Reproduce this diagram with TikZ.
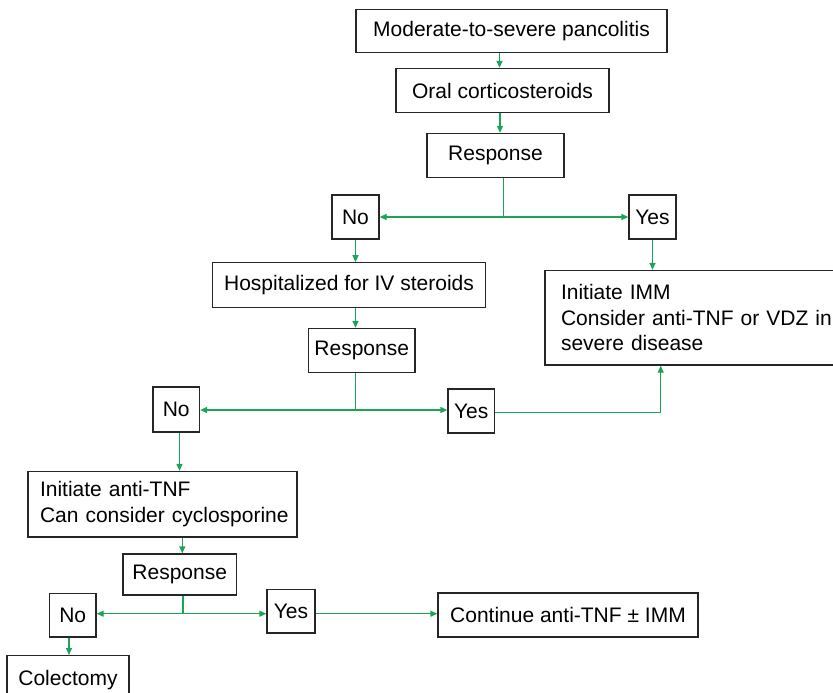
\documentclass[tikz,border=0pt]{standalone}
\usepackage{fontspec}
\setmainfont{Liberation Sans}
\usetikzlibrary{arrows.meta}
\definecolor{flowgreen}{RGB}{28,164,86}
\begin{document}
\begin{tikzpicture}[x=1pt,y=-1pt,
  box/.style={draw=black!85, line width=1.3pt, inner sep=0pt, anchor=center,
    font=\fontsize{21}{25.5}\selectfont, text=black},
  leftbox/.style={box, align=left, inner xsep=#1},
  link/.style={draw=flowgreen, line width=1.3pt},
  arr/.style={link, -{Triangle[length=7pt,width=6pt]}}
]
\useasboundingbox (0,0) rectangle (833,693);

% first stage
\node[box, minimum width=311pt, minimum height=43pt] (start) at (511.5,31) {Moderate-to-severe pancolitis};
\node[box, minimum width=213pt, minimum height=44pt] (oral) at (502.5,90.5) {Oral corticosteroids};
\node[box, minimum width=137pt, minimum height=44pt] (resp1) at (495.5,155.5) {Response};
\node[box, minimum width=47pt, minimum height=44pt] (no1) at (355.5,217) {No};
\node[box, minimum width=47pt, minimum height=44pt] (yes1) at (652.5,217) {Yes};

% second stage
\node[box, minimum width=273pt, minimum height=44.5pt] (hosp) at (349,285) {Hospitalized for IV steroids};
\node[box, minimum width=106.5pt, minimum height=44pt] (resp2) at (361.75,350.5) {Response};
\node[leftbox=16pt, text width=290pt, minimum height=94.5pt] (imm) at (706,317.75)
  {Initiate IMM\\\mbox{Consider anti-TNF or VDZ in}\\severe disease};
\node[box, minimum width=46.5pt, minimum height=45pt] (no2) at (176.25,409.5) {No};
\node[box, minimum width=46.5pt, minimum height=44pt] (yes2) at (471.25,411) {Yes};

% third stage
\node[leftbox=12pt, text width=245pt, minimum height=65.5pt] (antitnf) at (162.5,504.25)
  {Initiate anti-TNF\\\mbox{Can consider cyclosporine}};
\node[box, minimum width=113.5pt, minimum height=41pt] (resp3) at (179.75,574.5) {Response};
\node[box, minimum width=46.5pt, minimum height=43.5pt] (no3) at (72.75,615.25) {No};
\node[box, minimum width=48pt, minimum height=43.5pt] (yes3) at (291,611.25) {Yes};
\node[box, minimum width=260pt, minimum height=44pt] (cont) at (568,615) {Continue anti-TNF ± IMM};
\node[box, minimum width=122pt, minimum height=48pt, anchor=north] (colect) at (68,655) {Colectomy};

% branch points and vertical guides
\coordinate (g1) at (499.5,0);
\coordinate (g2) at (500,0);
\coordinate (j1) at (503.5,217);
\coordinate (g3) at (355.5,0);
\coordinate (j2) at (355.7,410);
\coordinate (g4) at (660.7,0);
\coordinate (g5) at (179.5,0);
\coordinate (g6) at (182.3,0);
\coordinate (j3) at (183,613.7);
\coordinate (g7) at (69,0);

% connectors
\draw[arr] (start.south -| g1) -- (oral.north -| g1);
\draw[arr] (oral.south -| g2) -- (resp1.north -| g2);
\draw[link] (resp1.south -| j1) -- (j1);
\draw[arr] (j1) -- (no1.east |- j1);
\draw[arr] (j1) -- (yes1.west |- j1);
\draw[arr] (no1.south) -- (hosp.north -| no1.south);
\draw[arr] (yes1.south) -- (imm.north -| yes1.south);
\draw[arr] (hosp.south -| g3) -- (resp2.north -| g3);
\draw[link] (resp2.south -| j2) -- (j2);
\draw[arr] (j2) -- (no2.east |- j2);
\draw[arr] (j2) -- (yes2.west |- j2);
\draw[arr] (yes2.east |- 0,412.3) -| (imm.south -| g4);
\draw[arr] (no2.south -| g5) -- (antitnf.north -| g5);
\draw[arr] (antitnf.south -| g6) -- (resp3.north -| g6);
\draw[link] (resp3.south -| j3) -- (j3);
\draw[arr] (j3) -- (no3.east |- j3);
\draw[arr] (j3) -- (yes3.west |- j3);
\draw[arr] (yes3.east |- j3) -- (cont.west |- j3);
\draw[arr] (no3.south -| g7) -- (colect.north -| g7);
\end{tikzpicture}
\end{document}
